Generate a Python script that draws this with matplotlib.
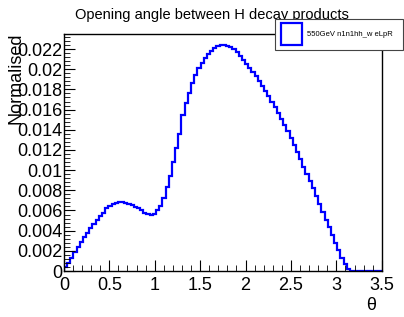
import numpy as np
import matplotlib.pyplot as plt
from matplotlib.ticker import MultipleLocator

plt.rcParams['font.family'] = ['Liberation Sans', 'DejaVu Sans']

# histogram: 100 bins from 0 to 3.5
bin_edges = np.linspace(0, 3.5, 101)
values = [
    0.0004, 0.0008, 0.0013, 0.0019, 0.0024, 0.0029, 0.0034, 0.0038, 0.0043, 0.0047,
    0.0051, 0.0055, 0.0058, 0.0062, 0.0064, 0.0066, 0.0067, 0.0068, 0.0068, 0.0067,
    0.0066, 0.0065, 0.0063, 0.0062, 0.0060, 0.0058, 0.0057, 0.0056, 0.0057, 0.0060,
    0.0064, 0.0072, 0.0083, 0.0094, 0.0108, 0.0122, 0.0136, 0.0155, 0.0167, 0.0176,
    0.0186, 0.0194, 0.0201, 0.0206, 0.0211, 0.0215, 0.0218, 0.0221, 0.0223, 0.0224,
    0.0224, 0.0223, 0.0222, 0.0220, 0.0217, 0.0213, 0.0209, 0.0205, 0.0201, 0.0197,
    0.0193, 0.0188, 0.0183, 0.0178, 0.0173, 0.0168, 0.0163, 0.0157, 0.0151, 0.0145,
    0.0139, 0.0132, 0.0125, 0.0118, 0.0111, 0.0103, 0.0096, 0.0089, 0.0082, 0.0074,
    0.0066, 0.0059, 0.0051, 0.0044, 0.0036, 0.0028, 0.0021, 0.0013, 0.0007, 0.0002,
    0, 0, 0, 0, 0, 0, 0, 0, 0, 0,
]
legend_label = '550GeV n1n1hh_w eLpR'

fig = plt.figure(figsize=(4.04, 3.17), dpi=100)
ax = fig.add_axes([0.158, 0.145, 0.787, 0.748])

ax.stairs(values, bin_edges, baseline=0, color='#0000ff', lw=1.6)

ax.set_xlim(0, 3.5)
ax.set_ylim(0, 0.0235)

ax.xaxis.set_minor_locator(MultipleLocator(0.1))
ax.yaxis.set_minor_locator(MultipleLocator(0.0004))
ax.set_xticks([0, 0.5, 1, 1.5, 2, 2.5, 3, 3.5])
ax.set_xticklabels(['0', '0.5', '1', '1.5', '2', '2.5', '3', '3.5'])
yt = np.arange(0, 0.0235, 0.002)
ax.set_yticks(yt)
ax.set_yticklabels(['0'] + ['%g' % v for v in yt[1:]])

ax.tick_params(which='both', direction='in', top=False, right=False, labelsize=13)
ax.tick_params(axis='x', which='major', length=8, pad=4)
ax.tick_params(axis='y', which='major', length=8, pad=1)
ax.tick_params(which='minor', length=4)
for s in ax.spines.values():
    s.set_linewidth(1)

fig.text(212 / 404, 1 - 15 / 317, 'Opening angle between H decay products', ha='center', va='center', fontsize=10.5)
fig.text(16 / 404, 1 - 32 / 317, 'Normalised', rotation=90, ha='center', va='top', fontsize=13)
fig.text(0.93, 0.035, 'θ', ha='right', va='center', fontsize=13)

# legend box, ROOT style
lx0, lx1, ly0, ly1 = 275 / 404, 403 / 404, 1 - 50 / 317, 1 - 19 / 317
fig.patches.append(plt.Rectangle((lx0, ly0), lx1 - lx0, ly1 - ly0, transform=fig.transFigure,
                                 facecolor='white', edgecolor='#444444', lw=0.8, zorder=6))
fig.patches.append(plt.Rectangle((281 / 404, 1 - 45 / 317), 21 / 404, 22 / 317, transform=fig.transFigure,
                                 facecolor='white', edgecolor='#0000ff', lw=1.6, zorder=7))
fig.text(307 / 404, 1 - 35 / 317, legend_label, ha='left', va='center', fontsize=5.5, zorder=8)

fig.savefig('out.png', dpi=100)
